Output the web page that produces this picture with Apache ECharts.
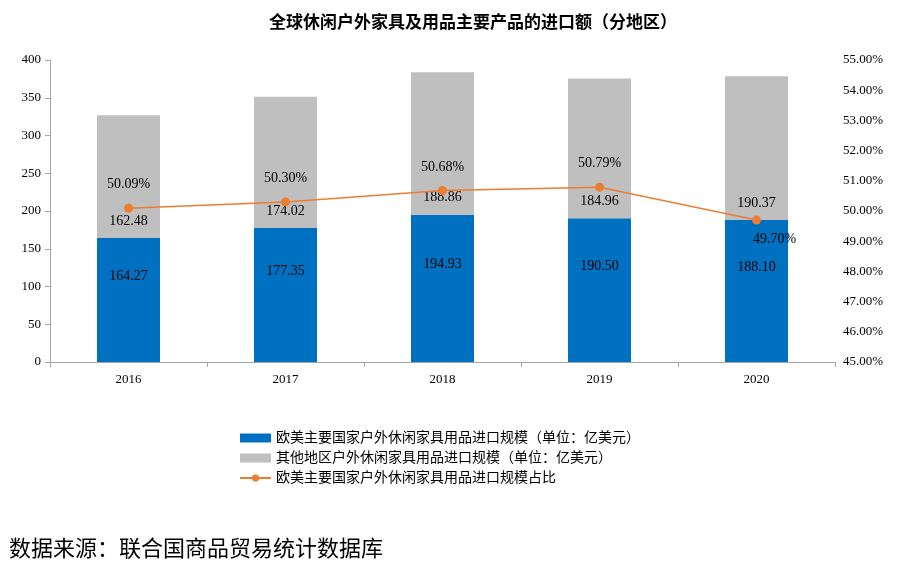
<!DOCTYPE html>
<html><head><meta charset="utf-8">
<script src="https://cdn.jsdelivr.net/npm/echarts@6/dist/echarts.min.js"></script>
<style>html,body{margin:0;padding:0;background:#fff}#c{width:915px;height:576px}</style>
</head><body><div id="c"></div>
<script>
var years = ['2016','2017','2018','2019','2020'];
var euUs = [164.27, 177.35, 194.93, 190.50, 188.10];
var others = [162.48, 174.02, 188.86, 184.96, 190.37];
var share = [50.09, 50.30, 50.68, 50.79, 49.70];
var nameA = '欧美主要国家户外休闲家具用品进口规模（单位：亿美元）';
var nameB = '其他地区户外休闲家具用品进口规模（单位：亿美元）';
var nameC = '欧美主要国家户外休闲家具用品进口规模占比';

var serif = '"Liberation Serif", "Noto Sans CJK SC", serif';
var chart = echarts.init(document.getElementById('c'));
chart.setOption({
  animation: false,
  textStyle: {fontFamily: serif, color: '#000'},
  title: [{
    text: '全球休闲户外家具及用品主要产品的进口额（分地区）',
    left: 264, top: 10,
    textStyle: {fontFamily: serif, fontSize: 17, fontWeight: 'bold', color: '#000'}
  },{
    text: '数据来源：联合国商品贸易统计数据库',
    left: 4, top: 534,
    textStyle: {fontFamily: serif, fontSize: 22, fontWeight: 'normal', color: '#000'}
  }],
  legend: {
    orient: 'vertical', left: 234, top: 426, itemGap: 6,
    itemWidth: 31, itemHeight: 9,
    textStyle: {fontFamily: serif, fontSize: 14, color: '#000'},
    data: [{name: nameA, icon: 'rect'}, {name: nameB, icon: 'rect'}, {name: nameC}]
  },
  grid: {left: 50, right: 80, top: 60, bottom: 214, containLabel: false},
  xAxis: {
    type: 'category', data: years,
    axisLine: {lineStyle: {color: '#a6a6a6'}},
    axisTick: {show: true, length: 5, lineStyle: {color: '#a6a6a6'}},
    axisLabel: {color: '#000', fontSize: 13, margin: 11, fontFamily: serif}
  },
  yAxis: [{
    type: 'value', min: 0, max: 400, interval: 50,
    axisLine: {show: true, lineStyle: {color: '#a6a6a6'}},
    axisTick: {show: true, length: 5, lineStyle: {color: '#a6a6a6'}},
    splitLine: {show: false},
    axisLabel: {color: '#000', fontSize: 13, margin: 9, fontFamily: serif}
  },{
    type: 'value', min: 45, max: 55, interval: 1,
    axisLine: {show: false}, axisTick: {show: false}, splitLine: {show: false},
    axisLabel: {color: '#000', fontSize: 13, margin: 8, fontFamily: serif,
      formatter: function(v){ return v.toFixed(2) + '%'; }}
  }],
  series: [{
    name: nameA, type: 'bar', stack: 't', data: euUs, barWidth: 63,
    itemStyle: {color: '#0070c0'},
    label: {show: true, position: 'inside', offset: [0, -24], color: '#000', fontSize: 14,
      fontFamily: serif, formatter: function(p){ return p.value.toFixed(2); }}
  },{
    name: nameB, type: 'bar', stack: 't', data: others, barWidth: 63,
    itemStyle: {color: '#bfbfbf'},
    label: {show: true, position: 'insideBottom', distance: 10, color: '#000', fontSize: 14,
      fontFamily: serif, formatter: function(p){ return p.value.toFixed(2); }}
  },{
    name: nameC, type: 'line', yAxisIndex: 1, z: 5,
    data: share.map(function(v, i){
      return i === share.length - 1
        ? {value: v, label: {position: 'bottom', distance: 8, offset: [18, 0]}}
        : v;
    }),
    symbol: 'circle', symbolSize: 9,
    lineStyle: {color: '#ed7d31', width: 1.5},
    itemStyle: {color: '#ed7d31'},
    label: {show: true, position: 'top', distance: 12, color: '#000', fontSize: 14,
      fontFamily: serif, formatter: function(p){ return p.value.toFixed(2) + '%'; }}
  }]
});
</script></body></html>
